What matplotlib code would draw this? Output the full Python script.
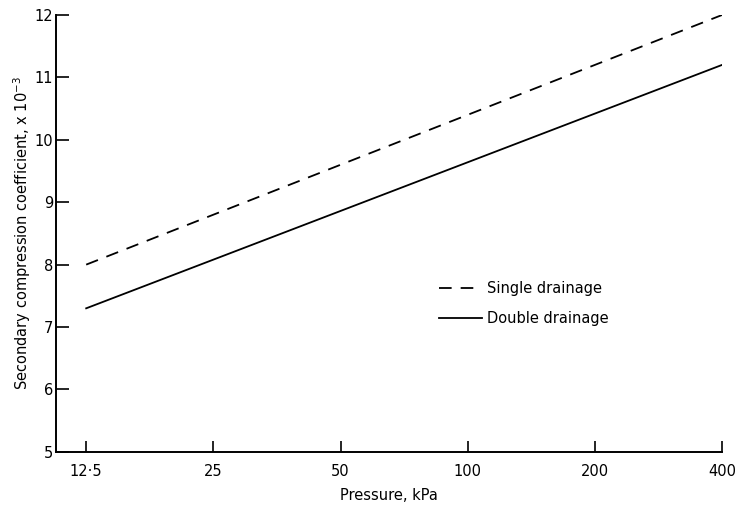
import matplotlib.pyplot as plt
from matplotlib.ticker import FixedLocator, NullLocator

plt.rcParams['font.family'] = ['DejaVu Sans']

pressure = [12.5, 25, 50, 100, 200, 400]
single_drainage = [8.0, 8.8, 9.6, 10.4, 11.2, 12.0]
double_drainage = [7.3, 8.08, 8.86, 9.64, 10.42, 11.2]
x_tick_labels = ['12·5', '25', '50', '100', '200', '400']
y_ticks = [5, 6, 7, 8, 9, 10, 11, 12]


def main():
    fig = plt.figure(figsize=(7.36, 5.17), dpi=100)
    ax = fig.add_axes([0.076, 0.126, 0.905, 0.845])

    ax.plot(pressure, single_drainage, color='black', lw=1.3,
            dashes=(7, 5), label='Single drainage')
    ax.plot(pressure, double_drainage, color='black', lw=1.3,
            label='Double drainage')

    ax.set_xscale('log')
    ax.set_xlim(10.6, 400)
    ax.set_ylim(5, 12)
    ax.xaxis.set_major_locator(FixedLocator(pressure))
    ax.xaxis.set_minor_locator(NullLocator())
    ax.set_xticklabels(x_tick_labels)
    ax.set_yticks(y_ticks)

    for side in ['top', 'right']:
        ax.spines[side].set_visible(False)
    for side in ['left', 'bottom']:
        ax.spines[side].set_linewidth(1.4)

    ax.tick_params(axis='x', direction='in', length=8, width=1.2,
                   labelsize=10.5, pad=9)
    ax.tick_params(axis='y', direction='in', length=9, width=1.2,
                   labelsize=10.5, pad=2)

    ax.set_xlabel('Pressure, kPa', fontsize=10.5, labelpad=6)
    ax.set_ylabel('Secondary compression coefficient, x 10$^{-3}$',
                  fontsize=10.5, labelpad=1)

    # legend sits in the lower right, no frame
    ax.legend(loc='upper left', bbox_to_anchor=(0.555, 0.42), frameon=False,
              fontsize=10.5, handlelength=3.0, handletextpad=0.3,
              labelspacing=1.0)

    fig.savefig('out.png', dpi=100)


if __name__ == '__main__':
    main()
